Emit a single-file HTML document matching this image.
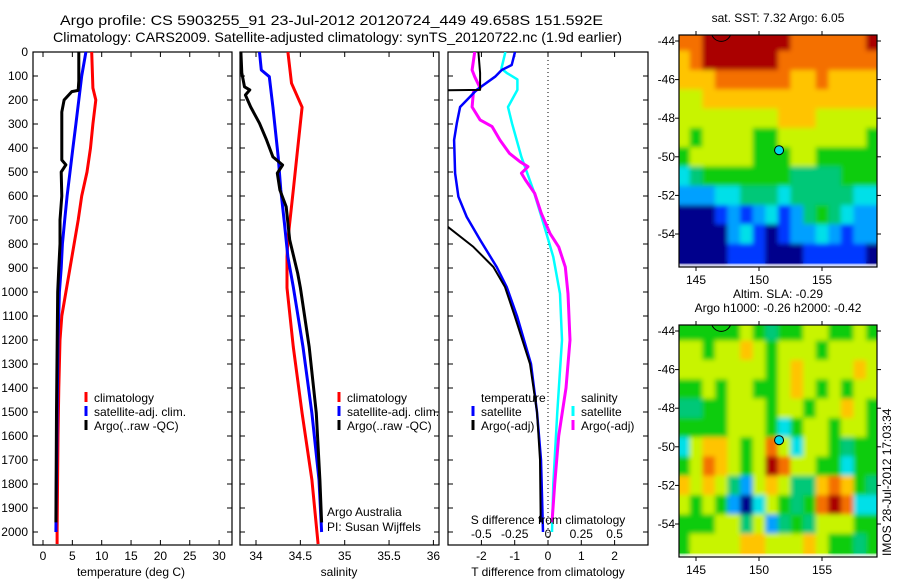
<!DOCTYPE html>
<html><head><meta charset="utf-8"><style>
html,body{margin:0;padding:0;background:#fff;}
svg{display:block;font-family:"Liberation Sans",sans-serif;}
text{font-size:12px;fill:#000;}
</style></head><body>
<svg id="chart" width="900" height="580" viewBox="0 0 900 580" xmlns="http://www.w3.org/2000/svg">
<text x="60" y="25" textLength="543" lengthAdjust="spacingAndGlyphs" style="font-size:14px">Argo profile: CS 5903255_91 23-Jul-2012 20120724_449 49.658S 151.592E</text>
<text x="53" y="42" textLength="569" lengthAdjust="spacingAndGlyphs" style="font-size:14px">Climatology: CARS2009. Satellite-adjusted climatology: synTS_20120722.nc (1.9d earlier)</text>
<g id="g1"></g>
<g id="g2"></g>
<g id="g3"></g>
<g id="m1"></g>
<g id="m2"></g>
<text transform="translate(891,556) rotate(-90)" style="font-size:12px">IMOS 28-Jul-2012 17:03:34</text>
</svg>
<script>
// ---------- data ----------
const depthTicks=[0,100,200,300,400,500,600,700,800,900,1000,1100,1200,1300,1400,1500,1600,1700,1800,1900,2000];
const tempTicks=[0,5,10,15,20,25,30];
const salTicks=[34,34.5,35,35.5,36];
const tdiffTicks=[-2,-1,0,1,2];
const sdiffTicks=[-0.5,-0.25,0,0.25,0.5];
const sdiffLabels=["-0.5","-0.25","0","0.25","0.5"];

const tClimDepth=[0,150,200,300,400,500,600,700,800,900,1000,1100,1200,1400,1600,2000,2050];
const tClim=[8.3,8.5,9.0,8.5,8.1,7.5,6.6,6.0,5.3,4.6,3.9,3.2,2.9,2.7,2.55,2.4,2.4];
const tSatDepth=[0,100,200,300,400,500,600,700,800,900,1000,1200,1500,2000];
const tSat=[7.3,6.6,6.1,5.6,5.1,4.6,4.1,3.7,3.3,3.1,2.8,2.55,2.4,2.2];
const tArgoDepth=[0,120,160,165,200,250,300,400,450,470,500,600,700,800,900,1000,1500,1960];
const tArgo=[6.1,6.1,6.0,4.9,3.6,3.2,3.2,3.2,3.2,3.9,3.1,3.2,2.9,2.9,2.7,2.5,2.3,2.2];

const sClimDepth=[0,130,230,296,437,575,712,783,854,983,1229,1505,1783,2050];
const sClim=[34.36,34.40,34.52,34.50,34.46,34.42,34.38,34.36,34.35,34.35,34.42,34.52,34.63,34.70];
const sSatDepth=[0,75,103,229,437,575,712,854,979,1229,1505,1783,2000];
const sSat=[34.04,34.06,34.15,34.19,34.25,34.28,34.32,34.36,34.42,34.53,34.63,34.71,34.74];
const sArgoDepth=[0,87,145,158,179,229,297,367,437,471,505,575,645,783,922,983,1229,1505,1783,1960];
const sArgo=[33.83,33.84,33.87,33.93,33.88,33.94,34.04,34.12,34.19,34.30,34.24,34.27,34.34,34.38,34.47,34.50,34.60,34.68,34.72,34.74];

const dtSatDepth=[0,54,75,103,158,229,297,367,505,603,687,783,896,979,1100,1300,1500,1700,2000];
const dtSat=[-0.99,-1.09,-1.39,-1.59,-2.14,-2.64,-2.74,-2.82,-2.79,-2.69,-2.44,-2.04,-1.54,-1.24,-0.93,-0.51,-0.33,-0.21,-0.15];
const dtArgoDepth=[0,87,145,158,160,700,729,812,896,979,1100,1300,1500,1700,1960];
const dtArgo=[-2.09,-2.04,-2.04,-2.04,-3.6,-3.6,-3.0,-2.24,-1.64,-1.29,-1.0,-0.54,-0.33,-0.24,-0.22];
const dsSatDepth=[0,69,87,114,158,229,297,437,575,712,854,1007,1200,1500,1800,2000];
const dsSat=[-0.32,-0.35,-0.31,-0.23,-0.23,-0.30,-0.27,-0.20,-0.11,-0.035,0.04,0.09,0.105,0.07,0.04,0.03];
const dsArgoDepth=[0,75,103,150,167,229,283,311,367,422,457,478,505,533,589,672,756,812,896,1007,1200,1400,1600,1800,1960];
const dsArgo=[-0.55,-0.57,-0.55,-0.51,-0.56,-0.57,-0.51,-0.42,-0.36,-0.29,-0.21,-0.15,-0.20,-0.17,-0.10,-0.05,0.015,0.08,0.13,0.15,0.165,0.135,0.08,0.05,0.03];

const mapLons=[144,145,146,147,148,149,150,151,152,153,154,155,156,157,158,159];
const mapLats=[-44,-45,-46,-47,-48,-49,-50,-51,-52,-53,-54,-55];
const lonTicks=[145,150,155];
const latTicks=[-44,-46,-48,-50,-52,-54];
const sstGrid=[
[8,8,9,9,9,9,9,9,9,8,8,8,8,8,8,9],
[7,8,9,9,9,9,9,9,8,8,8,8,8,8,8,8],
[7,7,7,8,8,8,8,8,8,7,7,8,7,7,7,7],
[6,6,7,7,7,7,7,7,7,7,7,7,7,7,7,7],
[6,6,6,6,6,6,6,6,7,7,7,6,6,6,6,6],
[6,5,6,6,6,6,5,5,6,6,6,6,6,6,6,5],
[5,6,6,6,6,6,5,5,5,6,6,5,5,5,5,5],
[3,4,5,5,5,5,5,5,5,4,4,4,4,5,5,5],
[2,2,2,3,3,4,4,4,3,4,4,4,4,4,3,3],
[0,0,0,1,2,1,2,3,1,2,4,5,4,3,2,2],
[0,0,0,0,2,3,1,0,1,2,2,3,2,1,2,2],
[0,0,0,0,1,1,1,0,0,0,1,1,1,1,1,0]];
const slaGrid=[
[5,5,5,5,5,6,5,4,5,5,6,6,5,5,6,5],
[6,6,5,6,6,7,6,5,6,6,6,5,6,6,6,6],
[6,6,6,6,6,6,6,5,6,7,6,6,6,6,7,6],
[5,5,6,5,6,6,5,5,6,7,6,5,6,5,6,6],
[4,4,5,5,6,6,6,5,6,6,5,6,6,7,6,5],
[5,5,5,5,6,6,6,5,3,5,6,6,5,6,6,5],
[3,6,7,7,6,5,6,8,6,3,6,6,5,4,5,5],
[5,6,8,7,6,5,6,9,8,6,6,5,5,3,5,5],
[7,6,7,6,4,2,6,7,6,4,4,7,8,7,5,4],
[6,5,6,5,2,0,3,6,5,4,5,8,9,8,3,3],
[5,5,5,6,6,4,6,2,4,5,4,6,6,6,5,5],
[5,6,6,6,6,7,7,6,6,6,7,6,5,5,4,5]];
const argoLon=151.592, argoLat=-49.658;

// ---------- helpers ----------
const NS="http://www.w3.org/2000/svg";
function mk(parent,tag,attrs,txt){const e=document.createElementNS(NS,tag);for(const k in attrs)e.setAttribute(k,attrs[k]);if(txt!==undefined)e.textContent=txt;parent.appendChild(e);return e;}
const yD=d=>52+0.24*d;
const PT=52,PB=545;
function frame(g,x0,x1,name){
  const r=mk(g,'rect',{x:x0,y:PT,width:x1-x0,height:PB-PT,fill:'none',stroke:'#000','stroke-width':1.2});
  
  
  depthTicks.forEach(d=>{
    mk(g,'line',{x1:x0,x2:x0+5,y1:yD(d),y2:yD(d),stroke:'#000'});
    mk(g,'line',{x1:x1-5,x2:x1,y1:yD(d),y2:yD(d),stroke:'#000'});
  });
}
function xticks(g,vals,fx,labels,ly,name){
  vals.forEach((v,i)=>{
    const x=fx(v);
    mk(g,'line',{x1:x,x2:x,y1:PB,y2:PB-5,stroke:'#000'});
    mk(g,'line',{x1:x,x2:x,y1:PT,y2:PT+5,stroke:'#000'});
    const t=mk(g,'text',{x:x,y:ly,'text-anchor':'middle'},labels?labels[i]:String(v));
    
    
  });
}
function series(g,xs,ds,fx,color,w,name,clip){
  const pts=xs.map((v,i)=>fx(v).toFixed(1)+','+yD(ds[i]).toFixed(1)).join(' ');
  const p=mk(g,'polyline',{points:pts,fill:'none',stroke:color,'stroke-width':w,'stroke-linejoin':'round'});
  if(clip)p.setAttribute('clip-path','url(#'+clip+')');
  
  
}
function legend(g,x,y,items,name){
  items.forEach((it,i)=>{
    if(it[0])mk(g,'line',{x1:x,x2:x,y1:y+i*14-10,y2:y+i*14,stroke:it[0],'stroke-width':3});
    const t=mk(g,'text',{x:x+8,y:y+i*14},it[1]);
    
    
  });
}
const defs=mk(document.getElementById('chart'),'defs',{});
const flt=mk(defs,'filter',{id:'blur',x:'-5%',y:'-5%',width:'110%',height:'110%'});
mk(flt,'feGaussianBlur',{stdDeviation:2.5});

// ---------- panel 1: temperature ----------
const g1=document.getElementById('g1');
const fT=t=>43+5.87*t;
frame(g1,33,232,'temperature');
depthTicks.forEach(d=>{const t=mk(g1,'text',{x:28,y:yD(d)+4,'text-anchor':'end'},String(d));
  
  });
xticks(g1,tempTicks,fT,null,560,'temperature');
mk(g1,'text',{x:131,y:576,'text-anchor':'middle'},'temperature (deg C)');
series(g1,tClim,tClimDepth,fT,'#ff0000',3,'temp-climatology-line');
series(g1,tSat,tSatDepth,fT,'#0000ff',3,'temp-satellite-line');
series(g1,tArgo,tArgoDepth,fT,'#000000',3,'temp-argo-line');
legend(g1,86,402,[['#f00','climatology'],['#00f','satellite-adj. clim.'],['#000','Argo(..raw -QC)']],'temp-legend');

// ---------- panel 2: salinity ----------
const g2=document.getElementById('g2');
const fS=s=>256+88.7*(s-34);
frame(g2,240,439,'salinity');
xticks(g2,salTicks,fS,null,560,'salinity');
mk(g2,'text',{x:339,y:576,'text-anchor':'middle'},'salinity');
series(g2,sClim,sClimDepth,fS,'#ff0000',3,'sal-climatology-line');
series(g2,sSat,sSatDepth,fS,'#0000ff',3,'sal-satellite-line');
series(g2,sArgo,sArgoDepth,fS,'#000000',3,'sal-argo-line');
legend(g2,339,402,[['#f00','climatology'],['#00f','satellite-adj. clim.'],['#000','Argo(..raw -QC)']],'sal-legend');
mk(g2,'text',{x:327,y:516},'Argo Australia');
mk(g2,'text',{x:327,y:531},'PI: Susan Wijffels');

// ---------- panel 3: differences ----------
const g3=document.getElementById('g3');
const fdT=t=>548+33.3*t;
const fdS=s=>548+133.2*s;
const cp=mk(defs,'clipPath',{id:'c3'});mk(cp,'rect',{x:448,y:PT,width:200,height:PB-PT});
frame(g3,448,648,'difference');
mk(g3,'line',{x1:548,x2:548,y1:PT,y2:PB,stroke:'#000','stroke-dasharray':'1,3'});
xticks(g3,tdiffTicks,fdT,null,560,'t-difference');
sdiffTicks.forEach((v,i)=>{const t=mk(g3,'text',{x:fdS(v),y:538,'text-anchor':'middle'},sdiffLabels[i]);
  
  });
series(g3,dsSat,dsSatDepth,fdS,'#00ffff',2.5,'s-diff-satellite-line','c3');
series(g3,dsArgo,dsArgoDepth,fdS,'#ff00ff',3,'s-diff-argo-line','c3');
series(g3,dtSat,dtSatDepth,fdT,'#0000ff',2.5,'t-diff-satellite-line','c3');
series(g3,dtArgo,dtArgoDepth,fdT,'#000000',2,'t-diff-argo-line','c3');
mk(g3,'text',{x:548,y:524,'text-anchor':'middle'},'S difference from climatology');
mk(g3,'text',{x:548,y:576,'text-anchor':'middle'},'T difference from climatology');
legend(g3,473,416,[['#00f','satellite'],['#000','Argo(-adj)']],'t-diff-legend');
legend(g3,573,416,[['#0ff','satellite'],['#f0f','Argo(-adj)']],'s-diff-legend');
mk(g3,'text',{x:481,y:402},'temperature');
mk(g3,'text',{x:581,y:402},'salinity');

// ---------- maps ----------
const jet=['#00008c','#0038ff','#00a0ff','#00e0e8','#00c878','#10cc10','#c8f400','#ffc400','#f47000','#aa0000'];
function drawMap(id,grid,y0,titles,name){
  const g=document.getElementById(id);
  const X0=679,X1=877,Y0=y0,Y1=y0+232;
  const fx=l=>696+12.6*(l-145);
  const fy=la=>Y0+6+19.3*(-44-la);
  const c=mk(defs,'clipPath',{id:'clip'+id});mk(c,'rect',{x:X0,y:Y0,width:X1-X0,height:Y1-Y0});
  const cg=mk(g,'g',{'clip-path':'url(#clip'+id+')'});
  const base=mk(cg,'g',{});
  const blurred=mk(cg,'g',{filter:'url(#blur)'});
  [base,blurred].forEach(layer=>{
    mapLats.forEach((la,r)=>mapLons.forEach((lo,ci)=>{
      const x=fx(lo-0.5),y=fy(la+0.5);
      const cell=mk(layer,'rect',{x:x.toFixed(1),y:y.toFixed(1),width:(fx(lo+0.5)-x+0.5).toFixed(1),height:(fy(la-0.5)-y+0.5).toFixed(1),fill:jet[grid[r][ci]]});
      
      
    }));
  });
  mk(cg,'circle',{cx:fx(147),cy:fy(-43.5),r:10,fill:'none',stroke:'#000'});
  const m=mk(g,'circle',{cx:fx(argoLon),cy:fy(argoLat),r:4.5,fill:'#00d8e8',stroke:'#000','stroke-width':1});
  
  
  const fr=mk(g,'rect',{x:X0,y:Y0,width:X1-X0,height:Y1-Y0,fill:'none',stroke:'#000','stroke-width':1.2});
  
  lonTicks.forEach(l=>{mk(g,'line',{x1:fx(l),x2:fx(l),y1:Y1,y2:Y1+4,stroke:'#000'});mk(g,'line',{x1:fx(l),x2:fx(l),y1:Y0,y2:Y0-4,stroke:'#000'});
    const t=mk(g,'text',{x:fx(l),y:Y1+17,'text-anchor':'middle'},String(l));
    
    });
  latTicks.forEach(la=>{mk(g,'line',{x1:X0-4,x2:X0,y1:fy(la),y2:fy(la),stroke:'#000'});mk(g,'line',{x1:X1,x2:X1+4,y1:fy(la),y2:fy(la),stroke:'#000'});
    const t=mk(g,'text',{x:X0-4,y:fy(la)+4,'text-anchor':'end'},String(la));
    
    });
  titles.forEach((tt,i)=>{const t=mk(g,'text',{x:778,y:Y0-13-(titles.length-1-i)*14,'text-anchor':'middle'},tt);
    
    });
}
drawMap('m1',sstGrid,35,['sat. SST: 7.32 Argo: 6.05'],'sst-map');
drawMap('m2',slaGrid,325,['Altim. SLA: -0.29','Argo h1000: -0.26 h2000: -0.42'],'sla-map');
</script>
</body></html>
